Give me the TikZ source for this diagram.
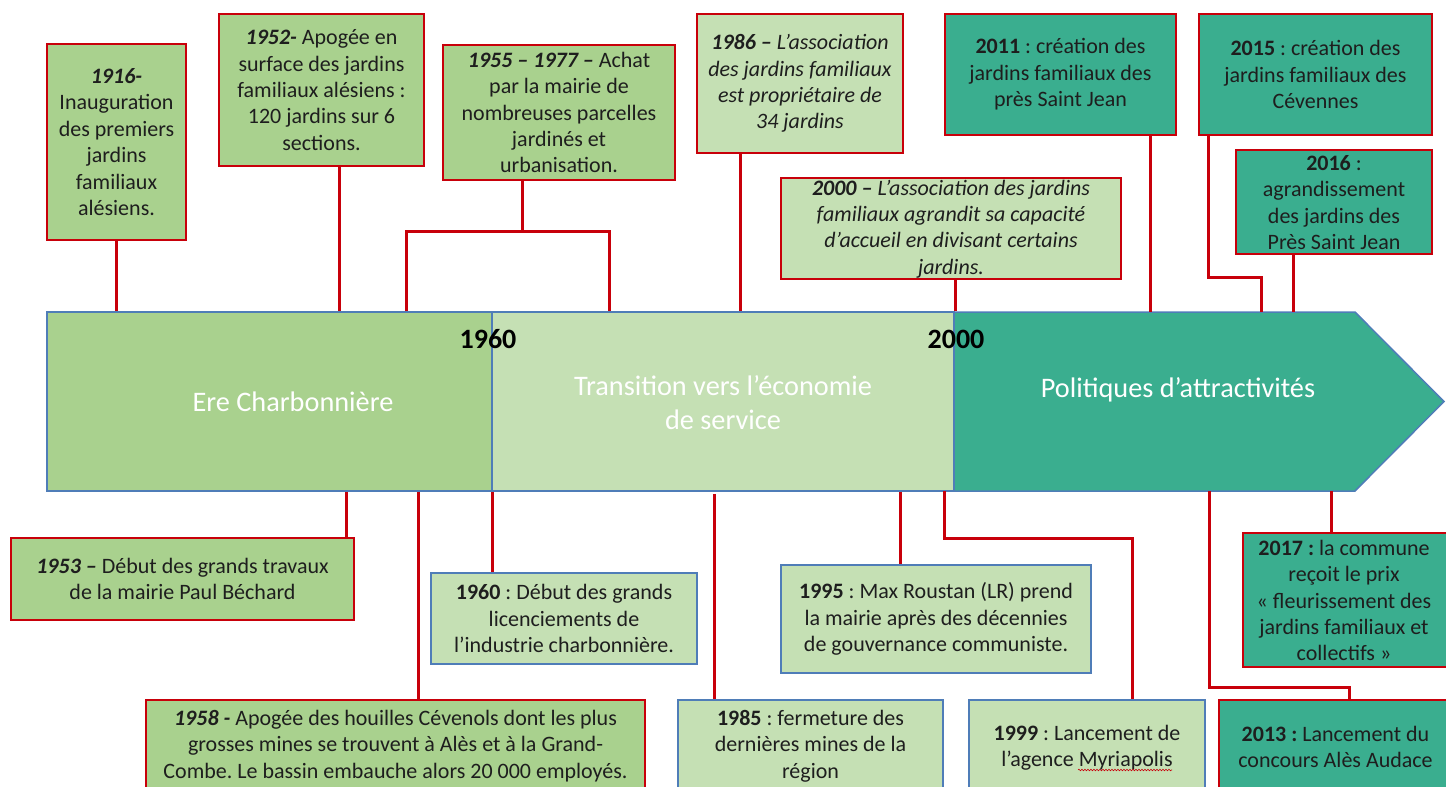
\documentclass[tikz,border=0pt]{standalone}
\usepackage{fontspec}
\setmainfont{Carlito}
\usetikzlibrary{decorations.pathmorphing}
\definecolor{gA}{HTML}{A9D18E}
\definecolor{gB}{HTML}{C5E0B4}
\definecolor{tealC}{HTML}{3AAE8F}
\definecolor{redL}{HTML}{C8000A}
\definecolor{blueL}{HTML}{4F7DB8}
\definecolor{txt}{HTML}{1E1E1E}
\newcommand{\yb}[1]{\textbf{\textit{#1}}}
\frenchspacing
\begin{document}
\begin{tikzpicture}[x=1pt,y=-1pt,
 box/.style={draw=redL, line width=2.5pt, inner sep=0pt, align=center, text=txt, font=\fontsize{22}{26.4}\selectfont},
 boxtext/.style={inner sep=0pt, align=center, text=txt, font=\fontsize{22}{26.4}\selectfont},
 bluebox/.style={box, draw=blueL, line width=2pt},
 conn/.style={draw=redL, line width=3pt},
 seg/.style={draw=blueL, line width=1.5pt, inner sep=0pt},
 bandtext/.style={text=white, font=\fontsize{28.3}{34}\selectfont, align=center},
 yeartext/.style={font=\bfseries\fontsize{28}{34}\selectfont, text=black, inner sep=0pt}]
\useasboundingbox (0,0) rectangle (1446,787);
\clip (0,0) rectangle (1446,787);

% band
\node[seg, fill=gA, minimum width=445, minimum height=179] (s1) at (269.5,401.5) {};
\node[seg, fill=gB, minimum width=462, minimum height=179] (s2) at (723,401.5) {};
\coordinate (s3nw) at (954,312);
\coordinate (s3sw) at (954,491);
\draw[seg, fill=tealC] (s3nw) -- (1355,312) -- (1444,401.5) -- (1355,491) -- (s3sw) -- cycle;
\node[bandtext] (t1) at (293,402) {Ere Charbonnière};
\node[bandtext] (t2) at (723,403) {Transition vers l’économie\\de service};
\node[bandtext] (t3) at (1178,390) {Politiques d’attractivités};
\node[yeartext] (y1960) at (488,339) {1960};
\node[yeartext] (y2000) at (956,339) {2000};

% top boxes
\node[box, fill=gA, minimum width=139, minimum height=196] (b1916) at (116.5,142)
 {\yb{1916-}\\Inauguration\\des premiers\\jardins\\familiaux\\alésiens.};
\node[box, fill=gA, minimum width=205, minimum height=152] (b1952) at (321.5,90)
 {\yb{1952-} Apogée en\\surface des jardins\\familiaux alésiens :\\120 jardins sur 6\\sections.};
\node[box, fill=gA, minimum width=232, minimum height=135] (b1955) at (559,112.5)
 {\yb{1955 – 1977 –} Achat\\par la mairie de\\nombreuses parcelles\\jardinés et\\urbanisation.};
\node[box, fill=gB, minimum width=206, minimum height=139] (b1986) at (800,83.5)
 {\yb{1986 –} \textit{L’association}\\\textit{des jardins familiaux}\\\textit{est propriétaire de}\\\textit{34 jardins}};
\node[box, fill=gB, minimum width=340, minimum height=101] (b2000) at (951,228.5) {};
\node[boxtext] (b2000t) at (951,229)
 {\yb{2000 –} \textit{L’association des jardins}\\\textit{familiaux agrandit sa capacité}\\\textit{d’accueil en divisant certains}\\\textit{jardins.}};
\node[box, fill=tealC, minimum width=231, minimum height=121] (b2011) at (1060.5,74.5)
 {\textbf{2011} : création des\\jardins familiaux des\\près Saint Jean};
\node[box, fill=tealC, minimum width=233, minimum height=121] (b2015) at (1315.5,74.5)
 {\textbf{2015} : création des\\jardins familiaux des\\Cévennes};
\node[box, fill=tealC, minimum width=196, minimum height=104] (b2016) at (1334,202) {};
\node[boxtext] (b2016t) at (1334,202.5)
 {\textbf{2016} :\\agrandissement\\des jardins des\\Près Saint Jean};

% bottom boxes
\node[box, fill=gA, minimum width=343, minimum height=82] (b1953) at (182.5,579)
 {\yb{1953 –} Début des grands travaux\\de la mairie Paul Béchard};
\node[box, fill=gA, minimum width=499, minimum height=92] (b1958) at (395.5,746)
 {\yb{1958 -} Apogée des houilles Cévenols dont les plus\\grosses mines se trouvent à Alès et à la Grand-\\Combe. Le bassin embauche alors 20 000 employés.};
\node[bluebox, fill=gB, minimum width=266, minimum height=91] (b1960) at (564,618.5)
 {\textbf{1960} : Début des grands\\licenciements de\\l’industrie charbonnière.};
\node[bluebox, fill=gB, minimum width=265, minimum height=92] (b1985) at (810.5,746)
 {\textbf{1985} : fermeture des\\dernières mines de la\\région};
\node[bluebox, fill=gB, minimum width=310, minimum height=108] (b1995) at (936,619)
 {\textbf{1995} : Max Roustan (LR) prend\\la mairie après des décennies\\de gouvernance communiste.};
\node[bluebox, fill=gB, minimum width=236, minimum height=96] (b1999) at (1087,748)
 {\textbf{1999} : Lancement de\\l’agence Myriapolis};
\node[box, fill=tealC, minimum width=209, minimum height=134] (b2017) at (1347.5,600) {};
\node[boxtext] (b2017t) at (1344,600.5)
 {\textbf{2017 :} la commune\\reçoit le prix\\« fleurissement des\\jardins familiaux et\\collectifs »};
\node[box, fill=tealC, minimum width=233, minimum height=94] (b2013) at (1335.5,747)
 {\textbf{2013 :} Lancement du\\concours Alès Audace};
\draw[redL, line width=0.6pt, decorate, decoration={snake, amplitude=0.8pt, segment length=3pt}]
 (1078,770) -- (1172,770);

% connectors top
\draw[conn] (b1916.south) -- (b1916.south |- s1.north);
\draw[conn] (339,0 |- b1952.south) -- (339,0 |- s1.north);
\draw[conn] (522,0 |- b1955.south) -- (522,231);
\draw[conn] (406,0 |- s1.north) -- (406,231) -- (609,231) -- (609,0 |- s2.north);
\draw[conn] (740,0 |- b1986.south) -- (740,0 |- s2.north);
\draw[conn] (955,0 |- b2000.south) -- (955,0 |- s2.north);
\draw[conn] (1150,0 |- b2011.south) -- (1150,0 |- s3nw);
\draw[conn] (1208,0 |- b2015.south) -- (1208,277) -- (1261,277) -- (1261,0 |- s3nw);
\draw[conn] (1293,0 |- b2016.south) -- (1293,0 |- s3nw);

% connectors bottom
\draw[conn] (346,0 |- s1.south) -- (346,0 |- b1953.north);
\draw[conn] (418,0 |- s1.south) -- (418,0 |- b1958.north);
\draw[conn] (492,0 |- s2.south) -- (492,0 |- b1960.north);
\draw[conn] (714,494) -- (714,0 |- b1985.north);
\draw[conn] (900,0 |- s2.south) -- (900,0 |- b1995.north);
\draw[conn] (944,0 |- s3sw) -- (944,538) -- (1132,538) -- (1132,0 |- b1999.north);
\draw[conn] (1331,0 |- s3sw) -- (1331,0 |- b2017.north);
\draw[conn] (1209,0 |- s3sw) -- (1209,687) -- (1349,687) -- (1349,0 |- b2013.north);
\end{tikzpicture}
\end{document}
